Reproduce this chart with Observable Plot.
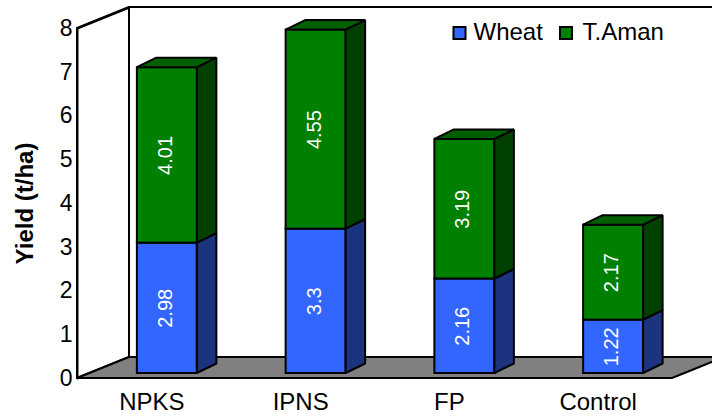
<!DOCTYPE html>
<html>
<head>
<meta charset="utf-8">
<script src="https://cdn.jsdelivr.net/npm/d3@7"></script>
<script src="https://cdn.jsdelivr.net/npm/@observablehq/plot@0.6"></script>
<style>
  html, body { margin: 0; padding: 0; background: white; overflow: hidden; }
</style>
</head>
<body>
<div id="chart"></div>
<script>
const categories = ["NPKS", "IPNS", "FP", "Control"];
const wheat = [2.98, 3.3, 2.16, 1.22];
const taman = [4.01, 4.55, 3.19, 2.17];
const seriesNames = ["Wheat", "T.Aman"];
const yTicks = [0, 1, 2, 3, 4, 5, 6, 7, 8];

// geometry (data units)
const W = 712, H = 419;
const mL = 77, mR = 40, mT = 28, mB = 41;
const pxX = (W - mL - mR) / categories.length;   // px per x unit
const pxY = (H - mT - mB) / 8;                    // px per y unit
const wallDx = 52 / pxX, wallDy = 21 / pxY;       // back wall depth
const barOff = 15.5 / pxX, barHw = 30 / pxX, barBase = 5 / pxY;
const barDx = 19.5 / pxX, barDy = 9.5 / pxY;

const colors = {
  Wheat: {front: "#3366FF", side: "#1C3380", top: "#2A50C8"},
  "T.Aman": {front: "#008000", side: "#004000", top: "#006000"}
};

const segments = categories.flatMap((c, i) => [
  {cat: c, i, series: "Wheat", v: wheat[i], lo: 0, hi: wheat[i]},
  {cat: c, i, series: "T.Aman", v: taman[i], lo: wheat[i], hi: wheat[i] + taman[i]}
]).map((s, k) => {
  const cx = s.i + 0.5 + barOff;
  return {...s, id: k, xl: cx - barHw, xr: cx + barHw, cx, y1: barBase + s.lo, y2: barBase + s.hi};
});

function sidePts(series) {
  return segments.filter(s => s.series === series).flatMap(s => [
    {id: s.id, x: s.xr, y1: s.y1, y2: s.y2},
    {id: s.id, x: s.xr + barDx, y1: s.y1 + barDy, y2: s.y2 + barDy}
  ]);
}
function topPts(series) {
  return segments.filter(s => s.series === series).flatMap(s => [
    {id: s.id, y: s.y2, x1: s.xl, x2: s.xr},
    {id: s.id, y: s.y2 + barDy, x1: s.xl + barDx, x2: s.xr + barDx}
  ]);
}

const nCat = categories.length;
const leftWall = [{x: 0, y1: 0, y2: 8}, {x: wallDx, y1: wallDy, y2: 8 + wallDy}];
const floor = [{y: 0, x1: 0, x2: nCat}, {y: wallDy, x1: wallDx, x2: nCat + wallDx}];

const marks = [
  // back wall
  Plot.rect([0], {x1: wallDx, x2: nCat + wallDx + 1, y1: wallDy, y2: 8 + wallDy, fill: "white", stroke: "black", strokeWidth: 2}),
  // left wall
  Plot.areaY(leftWall, {x: "x", y1: "y1", y2: "y2", fill: "white", stroke: "black", strokeWidth: 2}),
  // floor
  Plot.areaX(floor, {y: "y", x1: "x1", x2: "x2", fill: "#808080", stroke: "black", strokeWidth: 2}),
];

for (const sName of seriesNames) {
  const segs = segments.filter(s => s.series === sName);
  marks.push(
    Plot.rect(segs, {x1: "xl", x2: "xr", y1: "y1", y2: "y2", fill: colors[sName].front, stroke: "black", strokeWidth: 2}),
    Plot.areaY(sidePts(sName), {x: "x", y1: "y1", y2: "y2", z: "id", fill: colors[sName].side, stroke: "black", strokeWidth: 2, strokeLinejoin: "miter"})
  );
  if (sName === "T.Aman") {
    marks.push(Plot.areaX(topPts(sName), {y: "y", x1: "x1", x2: "x2", z: "id", fill: colors[sName].top, stroke: "black", strokeWidth: 2, strokeLinejoin: "miter"}));
  }
}

// value labels
marks.push(Plot.text(segments, {
  x: "cx", y: d => (d.y1 + d.y2) / 2, text: d => String(d.v),
  rotate: -90, fill: "white", fontSize: 20, dx: -2
}));

// axes
marks.push(
  Plot.axisY({ticks: yTicks, tickSize: 0, tickPadding: 5, fontSize: 23, label: null}),
  Plot.axisX({ticks: categories.map((c, i) => i + 0.5), tickFormat: d => categories[Math.floor(d)], tickSize: 0, tickPadding: 14, fontSize: 24, label: null}),
  Plot.text(["Yield (t/ha)"], {frameAnchor: "left", textAnchor: "middle", lineAnchor: "middle", dx: -52, rotate: -90, fontSize: 24, fontWeight: "bold", text: d => d})
);

// front axis line + top diagonal
marks.push(
  Plot.line([{x: wallDx, y: 8 + wallDy}, {x: 0, y: 8}, {x: 0, y: 0}], {x: "x", y: "y", stroke: "black", strokeWidth: 2})
);

// legend
const legX = [382, 488.5], legTX = [396, 505];
seriesNames.forEach((sName, k) => {
  marks.push(
    Plot.dot([sName], {frameAnchor: "top-left", dx: legX[k], dy: 4.5, symbol: "square", r: 6.8, fill: colors[sName].front, stroke: "black", strokeWidth: 2}),
    Plot.text([sName], {frameAnchor: "top-left", dx: legTX[k], dy: 3.5, text: d => d, textAnchor: "start", lineAnchor: "middle", fontSize: 24})
  );
});

const chart = Plot.plot({
  width: W, height: H,
  marginLeft: mL, marginRight: mR, marginTop: mT, marginBottom: mB,
  x: {domain: [0, nCat]},
  y: {domain: [0, 8]},
  style: {fontFamily: "'Liberation Sans', Arial, sans-serif", background: "white", overflow: "hidden", color: "black"},
  marks
});
document.getElementById("chart").appendChild(chart);
</script>
</body>
</html>
